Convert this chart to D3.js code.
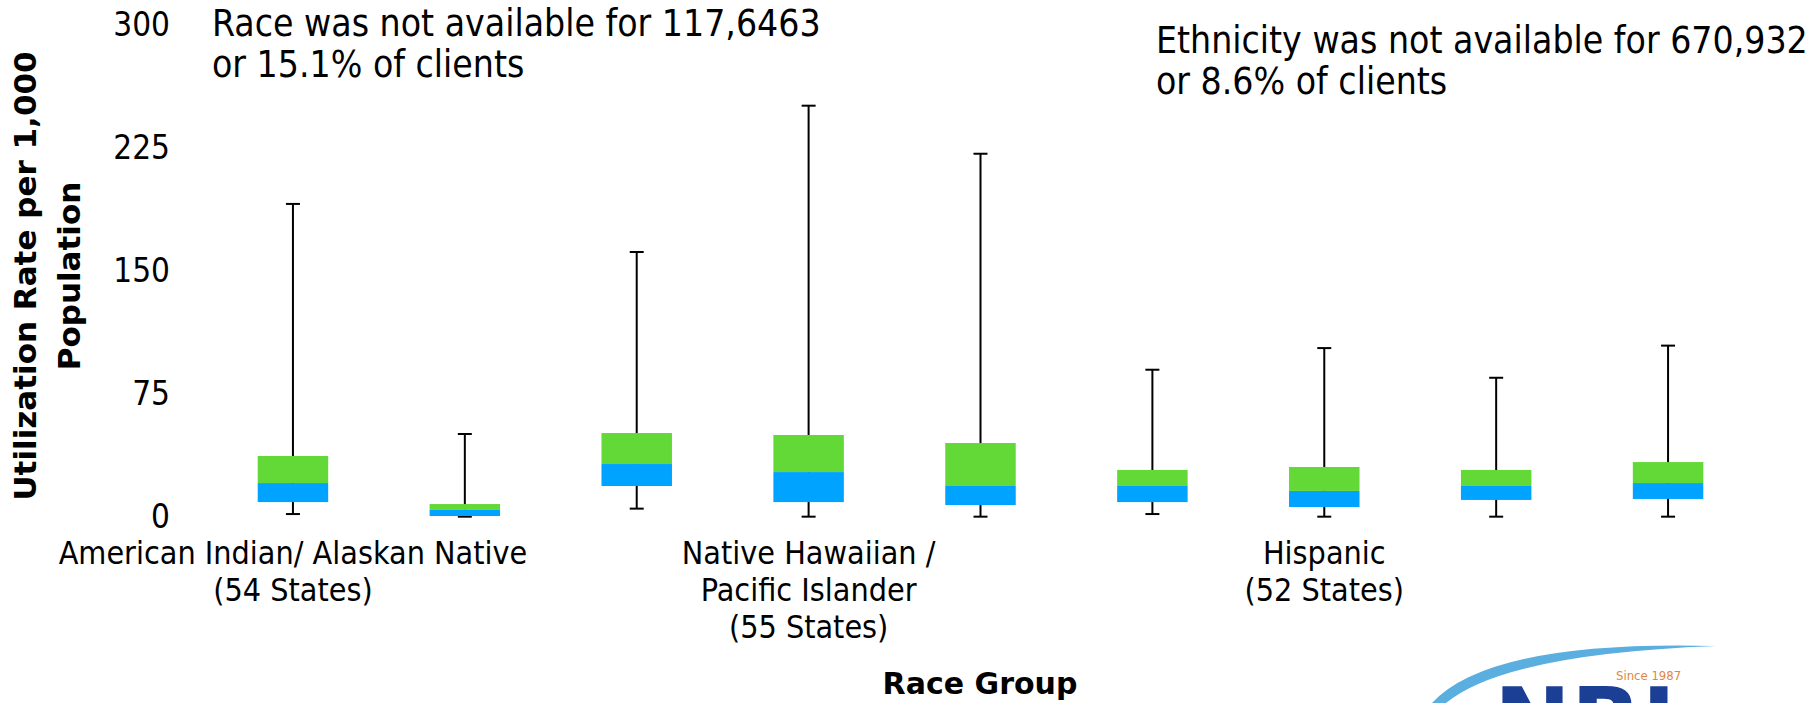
<!DOCTYPE html>
<html>
<head>
<meta charset="utf-8">
<script src="https://cdn.jsdelivr.net/npm/d3@7"></script>
<style>
  html, body { margin: 0; padding: 0; background: #ffffff; }
  svg { display: block; }
  .reg { font-family: "DejaVu Sans Condensed", "DejaVu Sans", sans-serif; font-stretch: condensed; fill: #000; }
  .bold { font-family: "DejaVu Sans", sans-serif; font-weight: bold; fill: #000; }
</style>
</head>
<body>
<svg id="chart" width="1816" height="703"></svg>
<script>
// ---- data ----
const categories = ["AIAN-a", "AIAN-b", "NHPI-a", "NHPI-b", "NHPI-c", "HISP-a", "HISP-b", "HISP-c", "HISP-d"];
const whiskerLow  = [1.8, 0.2, 5.1, 0.2, 0.2, 1.8, 0.2, 0.2, 0.2];
const q1Values    = [9.1, 0.6, 18.9, 9.1, 7.3, 9.1, 6.1, 10.4, 11.0];
const medianVals  = [20.7, 4.3, 32.3, 27.4, 18.9, 18.9, 15.9, 18.9, 20.7];
const q3Values    = [37.2, 7.9, 51.2, 50.0, 45.1, 28.7, 30.5, 28.7, 33.5];
const whiskerHigh = [190.9, 50.6, 161.6, 250.8, 221.5, 89.8, 103.0, 84.9, 104.5];
const yTicks = [0, 75, 150, 225, 300];
const groupLabelAt = [0, 3, 6];
const groupLabels = [
  ["American Indian/ Alaskan Native", "(54 States)"],
  ["Native Hawaiian /", "Pacific Islander", "(55 States)"],
  ["Hispanic", "(52 States)"]
];
const yTitleLines = ["Utilization Rate per 1,000", "Population"];
const xTitle = "Race Group";
const notes = [
  ["Race was not available for 117,6463", "or 15.1% of clients"],
  ["Ethnicity was not available for 670,932", "or 8.6% of clients"]
];

// ---- scales ----
const svg = d3.select("#chart");
const y = d3.scaleLinear().domain([0, 300]).range([517, 25]);
const x = d3.scaleBand().domain(categories).range([207, 1754]).paddingInner(0.59).paddingOuter(0.295);
const GREEN = "#62d936", BLUE = "#00a3ff";

// ---- y axis ----
const yAxis = svg.append("g").attr("transform", "translate(170,0)")
  .call(d3.axisLeft(y).tickValues(yTicks).tickSize(0).tickPadding(0).tickFormat(d3.format("d")));
yAxis.select(".domain").remove();
yAxis.selectAll("text").attr("class", "reg").attr("font-size", 33).attr("fill", "#000")
  .style("font-family", "'DejaVu Sans Condensed','DejaVu Sans',sans-serif");

// ---- whiskers ----
const rows = categories.map((c, i) => ({c, lo: whiskerLow[i], q1: q1Values[i], med: medianVals[i], q3: q3Values[i], hi: whiskerHigh[i]}));
const g = svg.append("g");
rows.forEach(d => {
  const cx = x(d.c) + x.bandwidth() / 2;
  g.append("line").attr("x1", cx).attr("x2", cx).attr("y1", y(d.lo)).attr("y2", y(d.hi))
    .attr("stroke", "#000").attr("stroke-width", 2);
  [d.lo, d.hi].forEach(v => {
    g.append("line").attr("x1", cx - 7).attr("x2", cx + 7).attr("y1", y(v)).attr("y2", y(v))
      .attr("stroke", "#000").attr("stroke-width", 2);
  });
});
// ---- boxes ----
g.selectAll("rect.lower").data(rows).join("rect").attr("class", "lower")
  .attr("x", d => x(d.c)).attr("width", x.bandwidth())
  .attr("y", d => y(d.med)).attr("height", d => y(d.q1) - y(d.med)).attr("fill", BLUE);
g.selectAll("rect.upper").data(rows).join("rect").attr("class", "upper")
  .attr("x", d => x(d.c)).attr("width", x.bandwidth())
  .attr("y", d => y(d.q3)).attr("height", d => y(d.med) - y(d.q3)).attr("fill", GREEN);

// ---- category labels ----
groupLabelAt.forEach((idx, k) => {
  const cx = x(categories[idx]) + x.bandwidth() / 2;
  groupLabels[k].forEach((line, j) => {
    svg.append("text").attr("class", "reg").attr("font-size", 32)
      .attr("x", cx).attr("y", 553 + j * 37).attr("dy", "0.35em")
      .attr("text-anchor", "middle").text(line);
  });
});

// ---- axis titles ----
yTitleLines.forEach((line, j) => {
  svg.append("text").attr("class", "bold").attr("font-size", 31)
    .attr("transform", `translate(${25 + j * 44},276) rotate(-90)`)
    .attr("dy", "0.35em").attr("text-anchor", "middle").text(line);
});
svg.append("text").attr("class", "bold").attr("font-size", 30)
  .attr("x", 980).attr("y", 683).attr("dy", "0.35em").attr("text-anchor", "middle").text(xTitle);

// ---- notes ----
const notePos = [[212, 36], [1156, 53]];
notes.forEach((lines, k) => {
  lines.forEach((line, j) => {
    svg.append("text").attr("class", "reg").attr("font-size", 37)
      .attr("x", notePos[k][0]).attr("y", notePos[k][1] + j * 41).text(line);
  });
});

// ---- logo (partially visible) ----
const logo = svg.append("g");
logo.append("path").attr("d", "M1432,703 Q1490,640 1716,646 Q1505,654 1446,703 Z").attr("fill", "#5aaee0");
logo.append("text").attr("x", 1616).attr("y", 680).attr("font-size", 13)
  .attr("font-family", "'DejaVu Sans Condensed', sans-serif").attr("fill", "#e0873a").text("Since 1987");
logo.append("text").attr("x", 1494).attr("y", 754).attr("font-size", 92)
  .attr("font-family", "'DejaVu Sans', sans-serif").attr("font-weight", "bold").attr("fill", "#1b3f94").text("NRI");
</script>
</body>
</html>
